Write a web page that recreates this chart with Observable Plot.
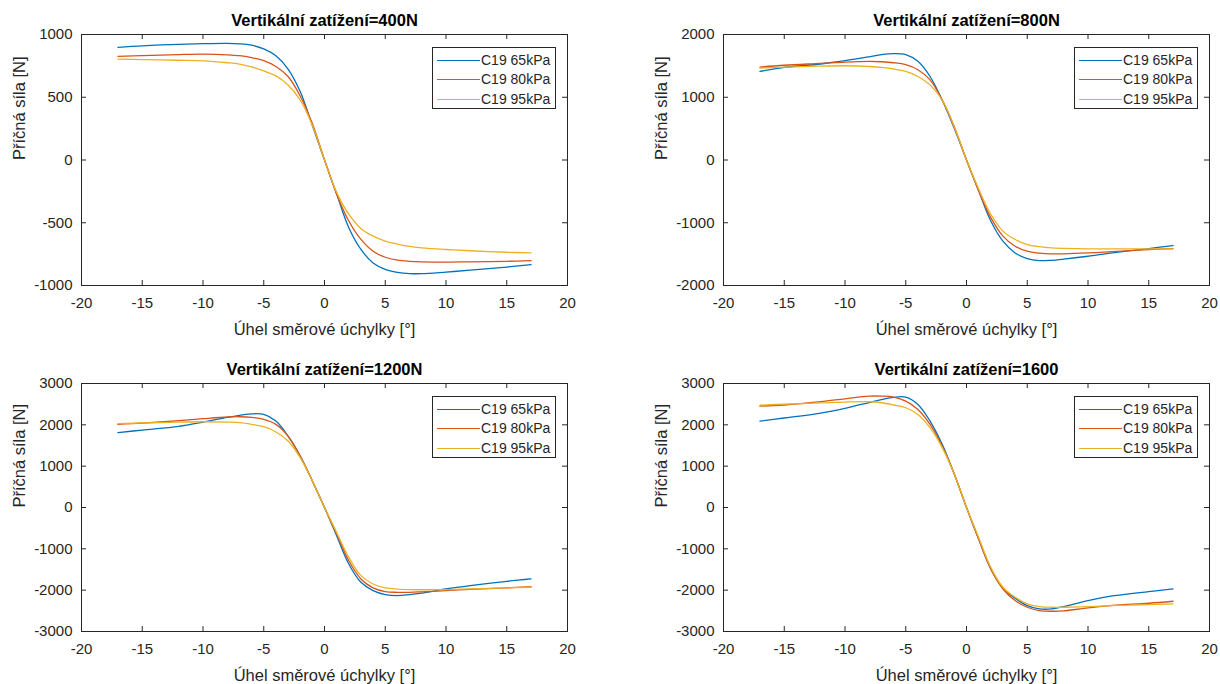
<!DOCTYPE html>
<html>
<head>
<meta charset="utf-8">
<script src="https://cdn.jsdelivr.net/npm/d3@7"></script>
<script src="https://cdn.jsdelivr.net/npm/@observablehq/plot@0.6"></script>
<style>
  html, body { margin: 0; padding: 0; background: #fff; }
  body { font-family: "Liberation Sans", Arial, Helvetica, sans-serif; }
  #root { position: relative; width: 1220px; height: 684px; overflow: hidden; background: #fff; }
  .panel { position: absolute; width: 610px; height: 342px; }
  .panel svg { display: block; }
  .legend { position: absolute; width: 124px; height: 62px; box-sizing: border-box;
            border: 1px solid #262626; background: #fff; }
  .legend .sw { position: absolute; left: 4px; width: 43px; height: 0; }
  .legend .lb { position: absolute; left: 48px; font-size: 14px; line-height: 16px; color: #262626; white-space: nowrap; }
</style>
</head>
<body>
<div id="root"></div>
<script>
// ---------------- data ----------------
const angles = [-17, -15, -12, -10, -8, -7, -6, -5, -4, -3, -2, -1, 0, 1, 2, 3, 4, 5, 6, 7, 8, 10, 12, 15, 17];
const series = ["C19 65kPa", "C19 80kPa", "C19 95kPa"];
const titles = ["Vertikální zatížení=400N", "Vertikální zatížení=800N", "Vertikální zatížení=1200N", "Vertikální zatížení=1600"];
const xLabel = "Úhel směrové úchylky [°]";
const yLabel = "Příčná síla [N]";
const xTicks = [-20, -15, -10, -5, 0, 5, 10, 15, 20];
const yTicks400 = [-1000, -500, 0, 500, 1000];
const yTicks800 = [-2000, -1000, 0, 1000, 2000];
const yTicks1200 = [-3000, -2000, -1000, 0, 1000, 2000, 3000];
const yTicks1600 = [-3000, -2000, -1000, 0, 1000, 2000, 3000];

// 400 N
const f400_65 = [898, 910, 922, 927, 929, 926, 915, 885, 830, 725, 545, 275, 0, -272, -540, -713, -820, -872, -895, -905, -906, -893, -878, -853, -834];
const f400_80 = [826, 832, 840, 843, 838, 831, 815, 791, 745, 665, 510, 290, 0, -272, -486, -633, -727, -775, -798, -807, -811, -813, -811, -807, -802];
const f400_95 = [804, 800, 795, 790, 775, 764, 742, 710, 670, 598, 478, 277, 0, -258, -432, -547, -606, -646, -670, -689, -700, -713, -723, -735, -740];
// 800 N
const f800_65 = [1411, 1475, 1530, 1582, 1645, 1679, 1695, 1679, 1572, 1331, 956, 501, 0, -490, -972, -1293, -1481, -1572, -1604, -1598, -1580, -1534, -1480, -1411, -1363];
const f800_80 = [1481, 1510, 1540, 1561, 1572, 1566, 1550, 1518, 1438, 1277, 956, 527, 0, -490, -918, -1213, -1374, -1454, -1485, -1497, -1495, -1481, -1460, -1427, -1411];
const f800_95 = [1465, 1480, 1495, 1502, 1490, 1475, 1450, 1411, 1331, 1197, 956, 527, 0, -463, -865, -1133, -1267, -1347, -1380, -1400, -1408, -1416, -1416, -1416, -1416];
// 1200 N
const f1200_65 = [1810, 1874, 1965, 2067, 2180, 2228, 2265, 2252, 2091, 1729, 1247, 643, 0, -684, -1367, -1810, -2011, -2107, -2131, -2107, -2070, -1971, -1890, -1786, -1729];
const f1200_80 = [2011, 2040, 2100, 2148, 2190, 2196, 2180, 2131, 2011, 1729, 1247, 643, 0, -643, -1287, -1729, -1946, -2035, -2051, -2051, -2040, -2011, -1980, -1946, -1914];
const f1200_95 = [2027, 2045, 2065, 2075, 2065, 2051, 2010, 1954, 1826, 1609, 1206, 643, 0, -603, -1206, -1649, -1850, -1946, -1975, -1987, -1990, -1987, -1970, -1946, -1930];
// 1600
const f1600_65 = [2091, 2165, 2285, 2400, 2540, 2610, 2665, 2670, 2493, 2091, 1528, 804, 0, -764, -1488, -1955, -2196, -2373, -2453, -2453, -2397, -2252, -2140, -2035, -1971];
const f1600_80 = [2453, 2480, 2560, 2630, 2694, 2694, 2670, 2574, 2373, 2011, 1488, 804, 0, -764, -1488, -1971, -2252, -2413, -2493, -2510, -2502, -2429, -2370, -2316, -2268];
const f1600_95 = [2477, 2500, 2530, 2550, 2558, 2534, 2480, 2413, 2252, 1930, 1448, 804, 0, -724, -1448, -1930, -2172, -2333, -2397, -2413, -2413, -2397, -2375, -2349, -2333];

// ---------------- style / layout ----------------
const colors = ["#0072BD", "#D95319", "#EDB120"];
const axisColor = "#262626";
const panels = [
  {title: titles[0], vals: [f400_65, f400_80, f400_95], yDomain: [-1000, 1000], yTicks: yTicks400, left: 0, top: 0, mL: 81, mR: 43, mT: 34, mB: 57},
  {title: titles[1], vals: [f800_65, f800_80, f800_95], yDomain: [-2000, 2000], yTicks: yTicks800, left: 610, top: 0, mL: 113, mR: 11, mT: 34, mB: 57},
  {title: titles[2], vals: [f1200_65, f1200_80, f1200_95], yDomain: [-3000, 3000], yTicks: yTicks1200, left: 0, top: 342, mL: 81, mR: 43, mT: 41, mB: 53},
  {title: titles[3], vals: [f1600_65, f1600_80, f1600_95], yDomain: [-3000, 3000], yTicks: yTicks1600, left: 610, top: 342, mL: 113, mR: 11, mT: 41, mB: 53}
];

const W = 610, H = 342, TICK = 5;
const root = document.getElementById("root");

for (const p of panels) {
  const rows = [];
  p.vals.forEach((arr, si) => arr.forEach((v, i) => rows.push({series: series[si], angle: angles[i], force: v})));
  const plotW = W - p.mL - p.mR;
  const plotH = H - p.mT - p.mB;
  const fmt = d => String(d);

  const chart = Plot.plot({
    width: W, height: H,
    marginLeft: p.mL, marginRight: p.mR, marginTop: p.mT, marginBottom: p.mB,
    style: {fontFamily: '"Liberation Sans", Arial, Helvetica, sans-serif', fontSize: "15px", color: axisColor, background: "white", overflow: "visible"},
    x: {domain: [-20, 20]},
    y: {domain: p.yDomain},
    color: {domain: series, range: colors},
    marks: [
      Plot.line(rows, {x: "angle", y: "force", z: "series", stroke: "series", strokeWidth: 1.3, curve: "catmull-rom"}),
      Plot.frame({stroke: axisColor, strokeWidth: 1}),
      // inward ticks on all four sides
      Plot.tickX(xTicks, {x: d => d, insetTop: plotH - TICK, stroke: axisColor}),
      Plot.tickX(xTicks, {x: d => d, insetBottom: plotH - TICK, stroke: axisColor}),
      Plot.tickY(p.yTicks, {y: d => d, insetRight: plotW - TICK, stroke: axisColor}),
      Plot.tickY(p.yTicks, {y: d => d, insetLeft: plotW - TICK, stroke: axisColor}),
      Plot.axisX(xTicks, {tickSize: 0, tickPadding: 12, tickFormat: fmt, label: null, fill: axisColor}),
      Plot.axisY(p.yTicks, {tickSize: 0, tickPadding: 9, tickFormat: fmt, label: null, fill: axisColor}),
      Plot.text([p.title], {text: d => d, frameAnchor: "top", dy: -14, lineAnchor: "middle", fontWeight: "bold", fontSize: 16.5, fill: "black"}),
      Plot.text([xLabel], {text: d => d, frameAnchor: "bottom", dy: 44, lineAnchor: "middle", fontSize: 16.5, fill: axisColor}),
      Plot.text([yLabel], {text: d => d, frameAnchor: "left", dx: -62, rotate: -90, lineAnchor: "middle", fontSize: 16.5, fill: axisColor})
    ]
  });

  const div = document.createElement("div");
  div.className = "panel";
  div.style.left = p.left + "px";
  div.style.top = p.top + "px";
  div.appendChild(chart);

  // legend (top-right inside the axes)
  const lg = document.createElement("div");
  lg.className = "legend";
  lg.style.left = (W - p.mR - 11 - 124) + "px";
  lg.style.top = (p.mT + 13) + "px";
  series.forEach((s, i) => {
    const cy = 13 + i * 19.3;
    const sw = document.createElement("div");
    sw.className = "sw";
    sw.style.top = (cy - 1) + "px";
    sw.style.borderTop = "1.3px solid " + colors[i];
    const lb = document.createElement("div");
    lb.className = "lb";
    lb.style.top = (cy - 9) + "px";
    lb.textContent = s;
    lg.appendChild(sw);
    lg.appendChild(lb);
  });
  div.appendChild(lg);
  root.appendChild(div);
}
</script>
</body>
</html>
